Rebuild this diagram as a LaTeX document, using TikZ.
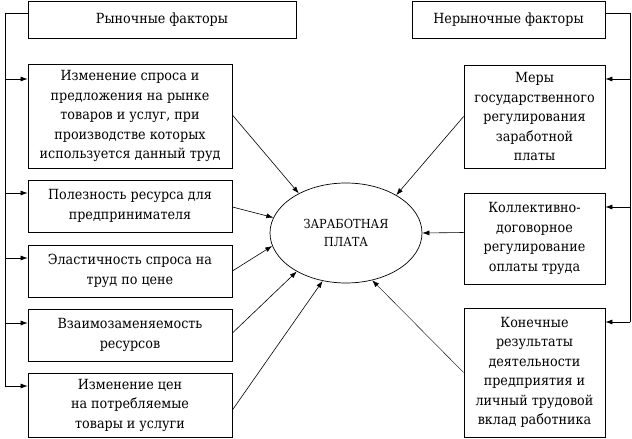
\documentclass[tikz,border=0pt]{standalone}
\usepackage{fontspec}
\setmainfont{DejaVu Serif}[FakeStretch=0.91]
\usetikzlibrary{arrows.meta,shapes.geometric}
\begin{document}
\begin{tikzpicture}[x=1pt,y=-1pt,
  box/.style={draw,line width=0.8pt,align=center,inner sep=0pt,anchor=center,
    font=\fontsize{14}{19.5}\selectfont},
  arr/.style={-{Latex[length=7pt,width=5pt]},line width=0.6pt},
  line/.style={line width=0.8pt}]
\useasboundingbox (0,0) rectangle (632,439);
% headers
\node[box,minimum width=268,minimum height=37] (hl) at (162,19.5) {Рыночные факторы};
\node[box,minimum width=193,minimum height=37] (hr) at (508.5,19.5) {Нерыночные факторы};
% left boxes
\node[box,minimum width=204,minimum height=104] (b1) at (130,116) {Изменение спроса и\\предложения на рынке\\товаров и услуг, при\\производстве которых\\используется данный труд};
\node[box,minimum width=204,minimum height=52] (b2) at (130,206) {Полезность ресурса для\\предпринимателя};
\node[box,minimum width=204,minimum height=52] (b3) at (130,271) {Эластичность спроса на\\труд по цене};
\node[box,minimum width=204,minimum height=52] (b4) at (130,335) {Взаимозаменяемость\\ресурсов};
\node[box,minimum width=204,minimum height=64] (b5) at (130,405) {Изменение цен\\на потребляемые\\товары и услуги};
% right boxes
\node[box,minimum width=141,minimum height=103] (r1) at (534.5,116.5) {Меры\\государственного\\регулирования\\заработной\\платы};
\node[box,minimum width=141,minimum height=91] (r2) at (534.5,238.5) {Коллективно-\\договорное\\регулирование\\оплаты труда};
\node[box,minimum width=141,minimum height=129] (r3) at (534.5,372.5) {Конечные\\результаты\\деятельности\\предприятия и\\личный трудовой\\вклад работника};
% ellipse
\node[draw,ellipse,line width=0.7pt,minimum width=152,minimum height=100,align=center,
  font=\fontsize{12.5}{18}\selectfont] (e) at (346,233) {ЗАРАБОТНАЯ\\ПЛАТА};
% left trunk
\coordinate (lt0) at (5,13);
\coordinate (lt1) at (5,79);
\coordinate (lt2) at (5,193);
\coordinate (lt3) at (5,258);
\coordinate (lt4) at (5,323);
\coordinate (lt5) at (5,386);
\draw[line] (hl.west |- lt0) -- (lt0) -- (lt5);
\draw[arr] (lt1) -- (b1.west |- lt1);
\draw[arr] (lt2) -- (b2.west |- lt2);
\draw[arr] (lt3) -- (b3.west |- lt3);
\draw[arr] (lt4) -- (b4.west |- lt4);
\draw[arr] (lt5) -- (b5.west |- lt5);
% right trunk
\coordinate (rt0) at (630,13);
\coordinate (rt1) at (630,79);
\coordinate (rt2) at (630,207);
\coordinate (rt3) at (630,322);
\draw[line] (hr.east |- rt0) -- (rt0) -- (rt3);
\draw[arr] (rt1) -- (r1.east |- rt1);
\draw[arr] (rt2) -- (r2.east |- rt2);
\draw[arr] (rt3) -- (r3.east |- rt3);
% into ellipse
\draw[arr] ([yshift=1pt]b1.east) -- (e.140.8);
\draw[arr] ([yshift=-1pt]b2.east) -- (e.168.8);
\draw[arr] (b3.east) -- (e.190.6);
\draw[arr] ([yshift=2pt]b4.east) -- (e.218);
\draw[arr] ([yshift=-5pt]b5.east) -- (e.244);
\draw[arr] (r1.west) -- (e.37);
\draw[arr] ([yshift=6pt]r2.west) -- (e.0);
\draw[arr,line width=0.4pt] (r3.west) -- (e.299);
\end{tikzpicture}
\end{document}
